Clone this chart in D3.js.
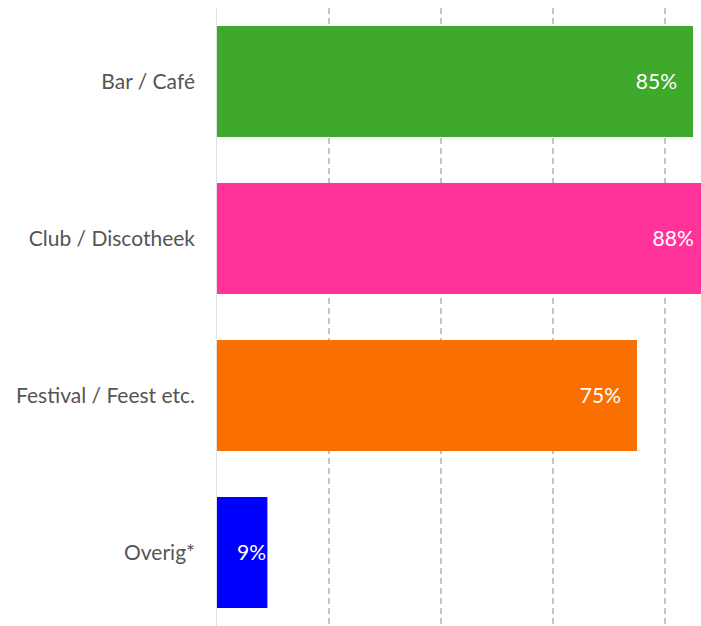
<!DOCTYPE html>
<html>
<head>
<meta charset="utf-8">
<script src="https://cdn.jsdelivr.net/npm/d3@7"></script>
<style>
  body { margin: 0; background: #fff; }
  svg { display: block; }
  .cat { font-family: Lato, "Open Sans", sans-serif; font-size: 21px; fill: #555; }
  .val { font-family: Lato, "Open Sans", sans-serif; font-size: 21px; fill: #fff; }
</style>
</head>
<body>
<div id="chart"></div>
<script>
var categories = ["Bar / Café", "Club / Discotheek", "Festival / Feest etc.", "Overig*"];
var values = [85, 88, 75, 9];
var colors = ["#3fa92b", "#ff3399", "#fa7000", "#0000ff"];
var gridTicks = [20, 40, 60, 80, 100];

var width = 701, height = 626;

var svg = d3.select("#chart").append("svg")
  .attr("width", width)
  .attr("height", height);

var x = d3.scaleLinear().domain([0, 100]).range([217, 777]);
var y = d3.scaleBand().domain(categories).range([3, 631])
  .paddingInner(0.293).paddingOuter(0.1465);

// gridlines
svg.append("g").selectAll("line")
  .data(gridTicks)
  .enter().append("line")
  .attr("x1", function(d) { return x(d); })
  .attr("x2", function(d) { return x(d); })
  .attr("y1", 8).attr("y2", height)
  .attr("stroke", "#c4c4c4")
  .attr("stroke-width", 2)
  .attr("stroke-dasharray", "6,4");

// baseline
svg.append("line")
  .attr("x1", x(0) - 0.5).attr("x2", x(0) - 0.5)
  .attr("y1", 8).attr("y2", height)
  .attr("stroke", "#e2e2e2")
  .attr("stroke-width", 1);

var rows = categories.map(function(c, i) {
  return { cat: c, value: values[i], color: colors[i] };
});

svg.append("g").selectAll("rect")
  .data(rows)
  .enter().append("rect")
  .attr("x", x(0))
  .attr("y", function(d) { return y(d.cat); })
  .attr("width", function(d) { return x(d.value) - x(0); })
  .attr("height", y.bandwidth())
  .attr("fill", function(d) { return d.color; });

svg.append("g").selectAll("text")
  .data(rows)
  .enter().append("text")
  .attr("class", "cat")
  .attr("x", 195)
  .attr("y", function(d) { return y(d.cat) + y.bandwidth() / 2; })
  .attr("dy", "0.35em")
  .attr("text-anchor", "end")
  .text(function(d) { return d.cat; });

svg.append("g").selectAll("text")
  .data(rows)
  .enter().append("text")
  .attr("class", "val")
  .attr("x", function(d) { return Math.max(x(d.value) - 16, x(0) + 49); })
  .attr("y", function(d) { return y(d.cat) + y.bandwidth() / 2; })
  .attr("dy", "0.35em")
  .attr("text-anchor", "end")
  .text(function(d) { return d.value + "%"; });
</script>
</body>
</html>
